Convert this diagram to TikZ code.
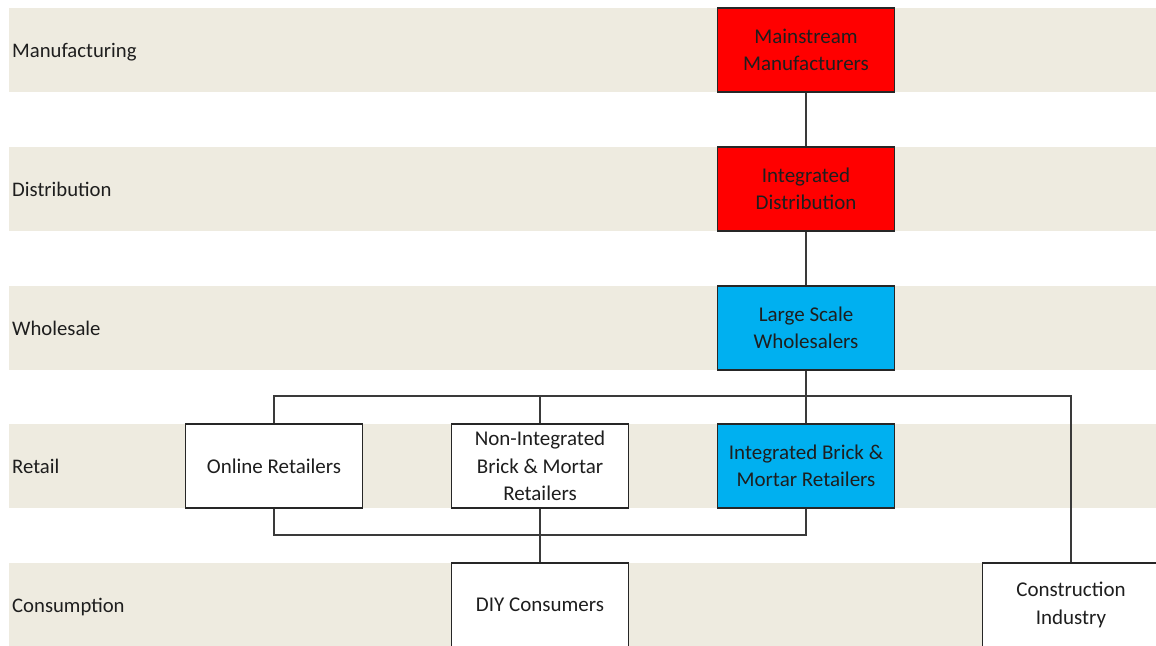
\documentclass[tikz,border=0pt]{standalone}
\usepackage{fontspec}
\setmainfont{Carlito}
\definecolor{band}{HTML}{EEEBE0}
\definecolor{redbox}{HTML}{FF0000}
\definecolor{bluebox}{HTML}{00B0F0}
\definecolor{txt}{HTML}{1E1E1E}
\definecolor{ln}{HTML}{3A3A3A}
\begin{document}
\begin{tikzpicture}[x=1pt,y=-1pt,
  box/.style={draw=black!85,line width=1.4pt,minimum width=177pt,minimum height=84pt,
    align=center,inner sep=2pt,text=txt,font=\fontsize{21}{27.5}\selectfont},
  lab/.style={anchor=base west,text=txt,inner sep=0pt,font=\fontsize{20.7}{23}\selectfont},
  conn/.style={draw=ln,line width=1.5pt}]
\useasboundingbox (0,0) rectangle (1156,645);
\clip (0,0) rectangle (1156,645);
% bands
\fill[band] (9,8) rectangle (1156,92);
\fill[band] (9,147) rectangle (1156,231);
\fill[band] (9,286) rectangle (1156,370);
\fill[band] (9,424) rectangle (1156,508);
\fill[band] (9,563) rectangle (1156,650);
\node[lab] (lman) at (12,57.5) {Manufacturing};
\node[lab] (ldis) at (12,196.5) {Distribution};
\node[lab] (lwho) at (12,335.5) {Wholesale};
\node[lab] (lret) at (12,473.5) {Retail};
\node[lab] (lcon) at (12,612.5) {Consumption};
\coordinate (bus1) at (806,396);
\coordinate (bus2) at (806,535);
% boxes
\node[box,fill=redbox] (mm) at (806,50) {Mainstream\\Manufacturers};
\node[box,fill=redbox] (id) at (806,189) {Integrated\\Distribution};
\node[box,fill=bluebox] (ls) at (806,328) {Large Scale\\Wholesalers};
\node[box,fill=white] (on) at (274,466) {Online Retailers};
\node[box,fill=white] (ni) at (540,466) {Non-Integrated\\Brick \& Mortar\\Retailers};
\node[box,fill=bluebox] (ib) at (806,466) {Integrated Brick \&\\Mortar Retailers};
\node[box,fill=white] (diy) at (540,605) {DIY Consumers};
\node[box,fill=white] (ci) at (1071,605) {Construction\\Industry};
\draw[conn] (mm.south) -- (id.north);
\draw[conn] (id.south) -- (ls.north);
\draw[conn] (ls.south) -- (bus1);
\draw[conn] (on.north) |- (bus1) -| (ci.north);
\draw[conn] (ni.north) -- (ni.north |- bus1);
\draw[conn] (ib.north) -- (bus1);
\draw[conn] (on.south) |- (bus2) -- (ib.south);
\draw[conn] (ni.south) -- (diy.north);
\end{tikzpicture}
\end{document}
